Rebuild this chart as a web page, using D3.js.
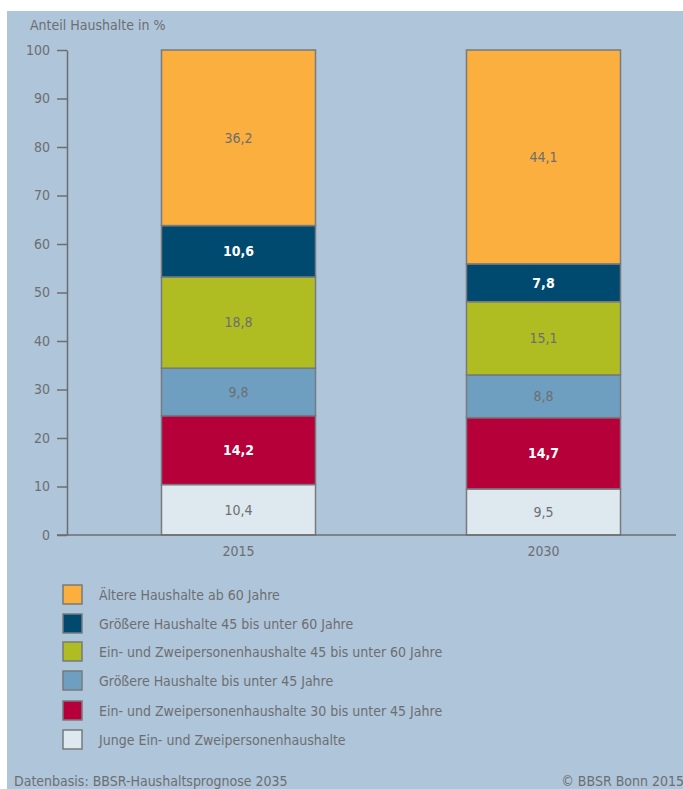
<!DOCTYPE html>
<html>
<head>
<meta charset="utf-8">
<script src="https://cdn.jsdelivr.net/npm/d3@7"></script>
<style>
  body { margin: 0; background: #fff; }
  svg text { font-family: "Liberation Sans Narrow", "DejaVu Sans Condensed", "Roboto", sans-serif; }
</style>
</head>
<body>
<svg id="chart"></svg>
<script>
// data
var years = ["2015", "2030"];
var groups = [
  "Junge Ein- und Zweipersonenhaushalte",
  "Ein- und Zweipersonenhaushalte 30 bis unter 45 Jahre",
  "Größere Haushalte bis unter 45 Jahre",
  "Ein- und Zweipersonenhaushalte 45 bis unter 60 Jahre",
  "Größere Haushalte 45 bis unter 60 Jahre",
  "Ältere Haushalte ab 60 Jahre"
];
var values2015 = [10.4, 14.2, 9.8, 18.8, 10.6, 36.2];
var values2030 = [9.5, 14.7, 8.8, 15.1, 7.8, 44.1];
var yTicks = [0, 10, 20, 30, 40, 50, 60, 70, 80, 90, 100];

var colors = ["#dde8ef", "#b5003a", "#6f9fc0", "#afbd22", "#004a70", "#fbaf3f"];
var labelColors = ["#6d6e71", "#fff", "#6d6e71", "#6d6e71", "#fff", "#6d6e71"];
var labelBold = [false, true, false, false, true, false];

var width = 683, height = 789;
var svg = d3.select("#chart").attr("width", width).attr("height", height);

svg.append("rect")
  .attr("x", 7).attr("y", 11)
  .attr("width", width - 7).attr("height", height - 11)
  .attr("fill", "#afc5da");

var x = d3.scaleBand().domain(years).range([86, 696]).paddingInner(0.495).paddingOuter(0.2475);
var y = d3.scaleLinear().domain([0, 100]).range([535, 50]);

// stacked
var table = years.map(function (yr, i) {
  var row = { year: yr };
  var vals = i === 0 ? values2015 : values2030;
  groups.forEach(function (g, j) { row[g] = vals[j]; });
  return row;
});
var series = d3.stack().keys(groups)(table);

var layer = svg.selectAll("g.layer")
  .data(series)
  .enter().append("g").attr("class", "layer");

layer.selectAll("rect")
  .data(function (d) { return d.map(function (p) { return { p: p, key: d.key, idx: d.index }; }); })
  .enter().append("rect")
  .attr("x", function (d) { return x(d.p.data.year); })
  .attr("width", x.bandwidth())
  .attr("y", function (d) { return y(d.p[1]); })
  .attr("height", function (d) { return y(d.p[0]) - y(d.p[1]); })
  .attr("fill", function (d) { return colors[d.idx]; })
  .attr("stroke", "#777a7e")
  .attr("stroke-width", 1.5);

layer.selectAll("text")
  .data(function (d) { return d.map(function (p) { return { p: p, idx: d.index }; }); })
  .enter().append("text")
  .attr("x", function (d) { return x(d.p.data.year) + x.bandwidth() / 2; })
  .attr("y", function (d) { return (y(d.p[0]) + y(d.p[1])) / 2; })
  .attr("dy", "0.35em")
  .attr("text-anchor", "middle")
  .attr("font-size", 14)
  .attr("font-weight", function (d) { return labelBold[d.idx] ? "bold" : "normal"; })
  .attr("fill", function (d) { return labelColors[d.idx]; })
  .text(function (d) { return d3.format(".1f")(d.p[1] - d.p[0]).replace(".", ","); });

// y axis
var yAxis = svg.append("g")
  .attr("transform", "translate(67,0)")
  .call(d3.axisLeft(y).tickValues(yTicks).tickSize(10).tickPadding(7).tickSizeOuter(0));
yAxis.select(".domain").attr("stroke", "#6d6e71").attr("stroke-width", 1.5);
yAxis.selectAll(".tick line").attr("stroke", "#6d6e71").attr("stroke-width", 1.5);
yAxis.selectAll(".tick text").attr("fill", "#6d6e71").attr("font-size", 14)
  .style("font-family", "'Liberation Sans Narrow', 'DejaVu Sans Condensed', sans-serif");

// x axis
var xAxis = svg.append("g")
  .attr("transform", "translate(0,535)")
  .call(d3.axisBottom(x).tickSize(0).tickPadding(11));
xAxis.select(".domain").attr("d", "M57,0H676").attr("stroke", "#6d6e71").attr("stroke-width", 1.5);
xAxis.selectAll(".tick text").attr("fill", "#6d6e71").attr("font-size", 14)
  .style("font-family", "'Liberation Sans Narrow', 'DejaVu Sans Condensed', sans-serif");

svg.append("text")
  .attr("x", 30).attr("y", 30)
  .attr("fill", "#6d6e71").attr("font-size", 14)
  .text("Anteil Haushalte in %");

// legend (top = oldest)
var legendOrder = d3.range(groups.length).reverse();
var legendY = [585, 614, 642, 671, 701, 730];
var legend = svg.selectAll("g.legend")
  .data(legendOrder)
  .enter().append("g").attr("class", "legend")
  .attr("transform", function (d, i) { return "translate(63," + legendY[i] + ")"; });
legend.append("rect")
  .attr("width", 19).attr("height", 19)
  .attr("fill", function (d) { return colors[d]; })
  .attr("stroke", "#777a7e").attr("stroke-width", 1.5);
legend.append("text")
  .attr("x", 36).attr("y", 15)
  .attr("fill", "#6d6e71").attr("font-size", 14)
  .text(function (d) { return groups[d]; });

svg.append("text")
  .attr("x", 14).attr("y", 786)
  .attr("fill", "#6d6e71").attr("font-size", 14)
  .text("Datenbasis: BBSR-Haushaltsprognose 2035");
svg.append("text")
  .attr("x", 684).attr("y", 786)
  .attr("text-anchor", "end")
  .attr("fill", "#6d6e71").attr("font-size", 14)
  .text("© BBSR Bonn 2015");
</script>
</body>
</html>
